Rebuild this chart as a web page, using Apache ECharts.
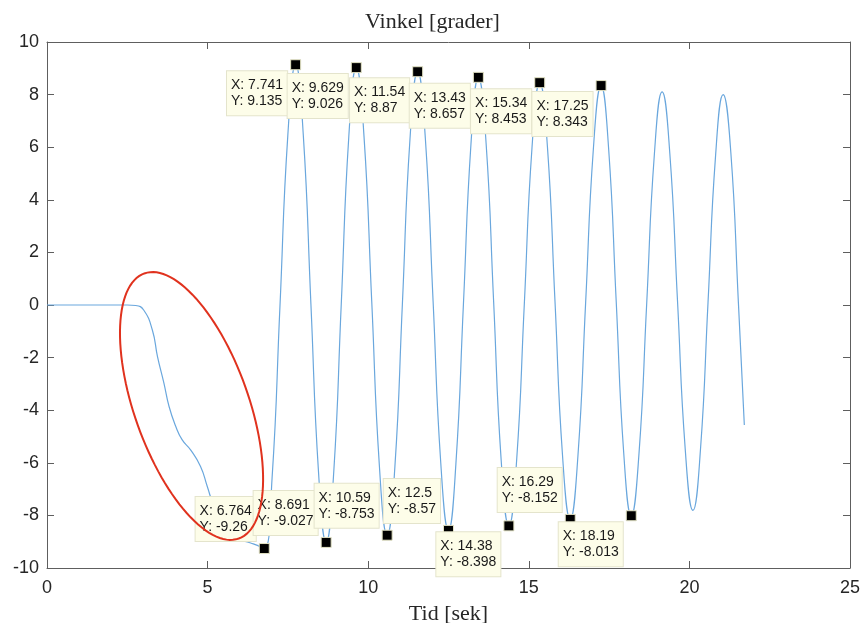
<!DOCTYPE html>
<html><head><meta charset="utf-8">
<script src="https://cdn.jsdelivr.net/npm/echarts@6/dist/echarts.min.js"></script>
<style>html,body{margin:0;padding:0;background:#fff}#c{width:865px;height:623px}</style>
</head><body><div id="c"></div>
<script>
// ---- data ----
const timeSec = [0, 1, 2, 2.5, 2.76, 3.01, 3.28, 3.44, 3.64, 3.80, 4.01, 4.21, 4.47, 4.78, 4.99, 5.20, 5.5, 5.8, 6.1, 6.34, 6.55, 6.764,
  7.008, 7.2525, 7.497, 7.741,
  7.979, 8.216, 8.454, 8.691,
  8.926, 9.16, 9.395, 9.629,
  9.869, 10.11, 10.35, 10.59,
  10.83, 11.065, 11.30, 11.54,
  11.78, 12.02, 12.26, 12.5,
  12.73, 12.965, 13.20, 13.43,
  13.67, 13.905, 14.14, 14.38,
  14.62, 14.86, 15.10, 15.34,
  15.58, 15.815, 16.05, 16.29,
  16.53, 16.77, 17.01, 17.25,
  17.485, 17.72, 17.955, 18.19,
  18.43, 18.67, 18.91, 19.15,
  19.39, 19.63, 19.87, 20.11,
  20.345, 20.58, 20.815, 21.05,
  21.29, 21.525, 21.71];
const angleDeg = [0, 0, 0, 0, -0.02, -0.19, -0.95, -1.96, -2.97, -3.86, -4.62, -5.13, -5.51, -6.14, -6.90, -7.66, -8.35, -8.75, -8.95, -9.05, -9.14, -9.26,
  -6.57, -0.06, 6.44, 9.135,
  6.47, 0.05, -6.37, -9.027,
  -6.38, 0.0, 6.38, 9.026,
  6.42, 0.14, -6.15, -8.753,
  -6.17, 0.06, 6.29, 8.87,
  6.32, 0.15, -6.02, -8.57,
  -6.05, 0.04, 6.13, 8.657,
  6.16, 0.13, -5.90, -8.398,
  -5.93, 0.03, 5.99, 8.453,
  6.02, 0.15, -5.72, -8.152,
  -5.73, 0.10, 5.93, 8.343,
  5.95, 0.17, -5.62, -8.013,
  -5.66, 0.04, 5.74, 8.10,
  5.77, 0.15, -5.48, -7.81,
  -5.49, 0.10, 5.68, 8.00,
  5.80, 0.10, -4.56];
const tipTime  = [6.764, 7.741, 8.691, 9.629, 10.59, 11.54, 12.5, 13.43, 14.38, 15.34, 16.29, 17.25, 18.19];
const tipAngle = [-9.26, 9.135, -9.027, 9.026, -8.753, 8.87, -8.57, 8.657, -8.398, 8.453, -8.152, 8.343, -8.013];
const titleText = 'Vinkel [grader]';
const xAxisName = 'Tid [sek]';
const ellipseCenter = [4.50, -3.84];

// ---- layout / style ----
const tipSide = ['up', 'down', 'up', 'down', 'up', 'down', 'up', 'down', 'down', 'down', 'up', 'down', 'down'];
const axisCol = '#5e5e5e';
const textCol = '#262626';

const chart = echarts.init(document.getElementById('c'), null, {renderer: 'canvas'});

function axisBase(pos, showLabels, extra) {
  return Object.assign({
    type: 'value', position: pos,
    axisLine: {show: true, onZero: false, lineStyle: {color: axisCol, width: 1}},
    axisTick: {show: true, inside: true, length: 7, lineStyle: {color: axisCol, width: 1}},
    axisLabel: {show: showLabels, fontFamily: 'Liberation Sans', fontSize: 18, color: textCol},
    splitLine: {show: false}
  }, extra);
}

const curve = timeSec.map((t, i) => [t, angleDeg[i]]);
const tips = tipTime.map((t, i) => {
  const up = tipSide[i] === 'up';
  return {
    value: [t, tipAngle[i]],
    label: {
      position: up ? [-3, -2] : [-3, 12],
      align: 'right',
      verticalAlign: up ? 'bottom' : 'top'
    }
  };
});

const option = {
  animation: false,
  backgroundColor: '#fff',
  title: {
    text: titleText, left: 'center', top: 11, padding: 0,
    textStyle: {fontFamily: 'Liberation Serif', fontSize: 22, fontWeight: 'normal', color: textCol}
  },
  grid: {left: 47, right: 15, top: 42, bottom: 55, outerBoundsMode: 'none', containLabel: false},
  xAxis: [
    axisBase('bottom', true, {min: 0, max: 25, interval: 5,
      axisLabel: {show: true, fontFamily: 'Liberation Sans', fontSize: 18, color: textCol, margin: 11},
      name: xAxisName, nameLocation: 'middle', nameGap: 35,
      nameTextStyle: {fontFamily: 'Liberation Serif', fontSize: 22, color: textCol}}),
    axisBase('top', false, {min: 0, max: 25, interval: 5})
  ],
  yAxis: [
    axisBase('left', true, {min: -10, max: 10, interval: 2,
      axisLabel: {show: true, fontFamily: 'Liberation Sans', fontSize: 18, color: textCol, margin: 8}}),
    axisBase('right', false, {min: -10, max: 10, interval: 2})
  ],
  series: [
    {
      type: 'line', data: curve, showSymbol: false, smooth: 0.5, silent: true, z: 2,
      lineStyle: {color: '#6aa7dd', width: 1.2}
    },
    {
      type: 'scatter', data: tips, symbol: 'rect', symbolSize: 10, z: 5, silent: true,
      itemStyle: {color: '#000', borderColor: '#e2e2c4', borderWidth: 1, opacity: 1},
      label: {
        show: true,
        formatter: p => '{t|X: ' + p.value[0] + '}\n{t|Y: ' + p.value[1] + '}',
        backgroundColor: '#fdfde9', borderColor: '#e4e4cc', borderWidth: 1,
        padding: [6, 4, 6, 4],
        rich: {
          t: {align: 'left', fontFamily: 'Liberation Sans', fontSize: 14, lineHeight: 16, color: '#1a1a1a'}
        }
      },
      labelLayout: {hideOverlap: false}
    }
  ]
};
chart.setOption(option);

// red annotation ellipse (drawn in pixels around a data-space centre)
const c = chart.convertToPixel({xAxisIndex: 0, yAxisIndex: 0}, ellipseCenter);
const semiA = 140.7, semiB = 57.1, tilt = 70.4 * Math.PI / 180;
const pts = [];
for (let k = 0; k <= 120; k++) {
  const ph = k / 120 * Math.PI * 2;
  const ex = semiA * Math.cos(ph), ey = semiB * Math.sin(ph);
  pts.push([c[0] + ex * Math.cos(tilt) - ey * Math.sin(tilt), c[1] + ex * Math.sin(tilt) + ey * Math.cos(tilt)]);
}
chart.setOption({
  graphic: [{type: 'polygon', shape: {points: pts}, silent: true, z: 100,
    style: {fill: 'none', stroke: '#e0321e', lineWidth: 2}}]
});
</script>
</body></html>
